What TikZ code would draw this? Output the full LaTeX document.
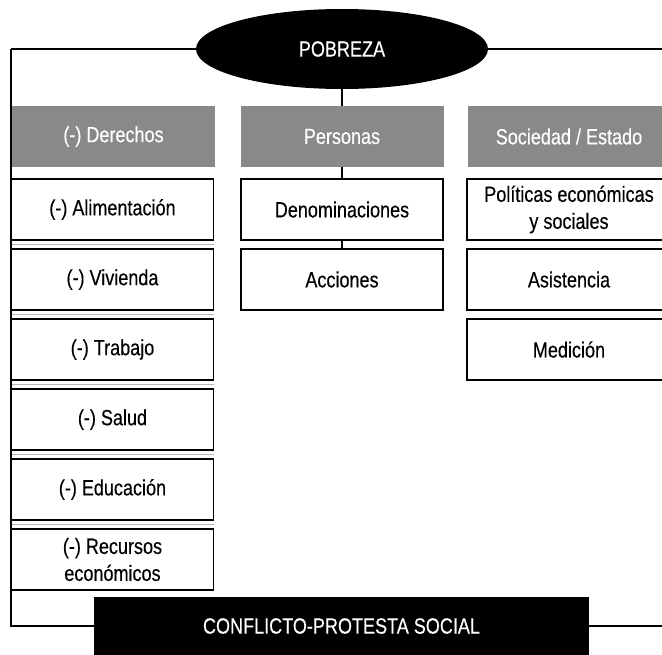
\documentclass[tikz,border=0pt]{standalone}
\usepackage{fontspec}
\setmainfont{Liberation Sans}[FakeStretch=0.82,FakeBold=0.3]
\usepackage{tikz}
\usetikzlibrary{shapes,arrows}
\definecolor{hdrgray}{RGB}{137,137,137}
\definecolor{shdgray}{RGB}{185,185,185}
\tikzset{
  every node/.append style={font=\fontsize{22}{27}\selectfont},
  headbox/.style={fill=hdrgray, text=white, minimum width=203pt, minimum height=61pt, inner sep=0pt},
  itembox/.style={draw, line width=1.6pt, fill=white, minimum width=202pt, minimum height=61pt, inner sep=0pt, align=center},
  blackbox/.style={fill=black, text=white, minimum width=495pt, minimum height=58pt, inner sep=0pt},
  joinline/.style={line width=1.1pt},
  shdline/.style={draw=shdgray, line width=1.6pt}
}
\begin{document}
\begin{tikzpicture}[x=1pt,y=-1pt]
\useasboundingbox (0,0) rectangle (662,654);
\clip (0,0) rectangle (662,654);

% to set corners of the big frame
\coordinate (lcorner) at (11,49);
\coordinate (rcorner) at (690,49);

% to write the three headers
\node [headbox] (derechos) at (113.5,136.5) {(-) Derechos};
\node [headbox] (personas) at (342,136.5) {Personas};
\node [headbox] (sociedad) at (569,136.5) {Sociedad / Estado};

% left column
\node [itembox] (d1) at (112.5,209.5) {(-) Alimentación};
\node [itembox] (d2) at (112.5,279.5) {(-) Vivienda};
\node [itembox] (d3) at (112.5,349.5) {(-) Trabajo};
\node [itembox] (d4) at (112.5,419.5) {(-) Salud};
\node [itembox] (d5) at (112.5,489.5) {(-) Educación};
\node [itembox] (d6) at (112.5,559.5) {(-) Recursos\\económicos};
% to draw grey line under the boxes
\foreach \i in {1,...,5}
  \draw [shdline] ([yshift=-3.5pt]d\i.south west) -- ([yshift=-3.5pt]d\i.south east);

% middle column
\node [itembox] (p1) at (342,209.5) {Denominaciones};
\node [itembox] (p2) at (342,279.5) {Acciones};

% right column
\node [itembox, minimum width=204pt] (s1) at (569,209.5) {Políticas económicas\\y sociales};
\node [itembox, minimum width=204pt] (s2) at (569,279.5) {Asistencia};
\node [itembox, minimum width=204pt] (s3) at (569,349.5) {Medición};

% to draw the frame and the joins
\draw [joinline] (lcorner) -- (rcorner);
\node [ellipse, fill=black, text=white, minimum width=292pt, minimum height=80pt, inner sep=0pt] (pobreza) at (342,49) {POBREZA};
\node [blackbox] (conflicto) at (341.5,626) {CONFLICTO-PROTESTA SOCIAL};
\draw [joinline] (lcorner) |- (conflicto.west);
\draw [joinline] (rcorner) |- (conflicto.east);
\draw [joinline] (pobreza.south) -- (personas.north);
\draw [joinline] (personas.south) -- (p1.north);
\draw [joinline] (p1.south) -- (p2.north);
\end{tikzpicture}
\end{document}
